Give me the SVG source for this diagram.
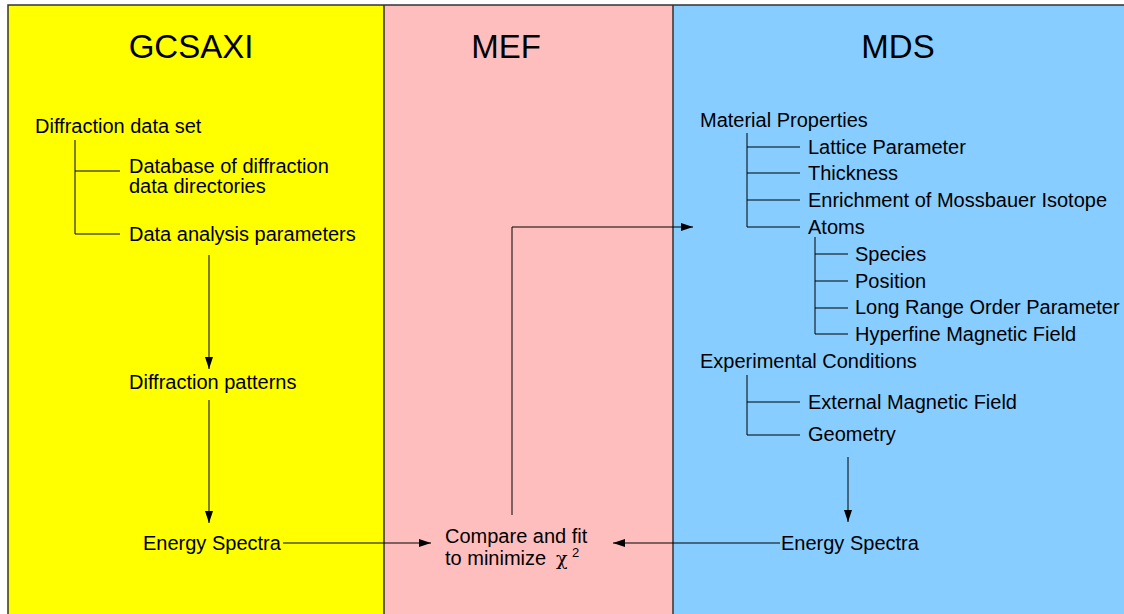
<svg xmlns="http://www.w3.org/2000/svg" width="1124" height="614" viewBox="0 0 1124 614">
<style>
text{font-family:"Liberation Sans",Arial,sans-serif;font-size:20px;fill:#000}
.title{font-size:33px;text-anchor:middle}
.chi{font-family:"DejaVu Serif","Liberation Serif",serif;font-size:19px}
.sup{font-size:13px}
.ln{stroke:#000;stroke-width:1;fill:none}
.arr{stroke:#000;stroke-width:1;fill:none;marker-end:url(#ah)}
.border{stroke:#333;stroke-width:1.5;fill:none}
</style>
<defs>
<marker id="ah" markerUnits="userSpaceOnUse" markerWidth="14" markerHeight="10" refX="12" refY="4" orient="auto">
<path d="M0,0 L12,4 L0,8 Z" fill="#000"/>
</marker>
</defs>
<g id="panels">
<rect x="8" y="5" width="376" height="609" fill="#ffff00"/>
<rect x="384" y="5" width="289" height="609" fill="#ffbebe"/>
<rect x="673" y="5" width="451" height="609" fill="#87cdff"/>
<path class="border" d="M8,614 V5 H1124 M384,5 V614 M673,5 V614"/>
</g>
<g id="titles">
<text class="title" x="191" y="58">GCSAXI</text>
<text class="title" x="506" y="58">MEF</text>
<text class="title" x="898" y="58">MDS</text>
</g>
<g id="connectors">
<path class="ln" d="M75,140 V234 M75,171 H120 M75,234 H120"/>
<path class="arr" d="M209,255 V369"/>
<path class="arr" d="M209,400 V523"/>
<path class="arr" d="M283,543 H431"/>
<path class="arr" d="M780,543 H613"/>
<path class="arr" d="M512,515 V227 H693"/>
<path class="ln" d="M747,133 V227 M747,147 H800 M747,173 H800 M747,200 H800 M747,227 H800"/>
<path class="ln" d="M815,237 V334 M815,254 H848 M815,281 H848 M815,308 H848 M815,334 H848"/>
<path class="ln" d="M747,375 V435 M747,402 H800 M747,435 H800"/>
<path class="arr" d="M848,457 V522"/>
</g>
<g id="gcsaxi-nodes">
<text id="n-diffset" x="35" y="133">Diffraction data set</text>
<g id="n-database">
<text x="129" y="173">Database of diffraction</text>
<text x="129" y="193">data directories</text>
</g>
<text id="n-params" x="129" y="241">Data analysis parameters</text>
<text id="n-patterns" x="129" y="389">Diffraction patterns</text>
<text id="n-es-left" x="143" y="550">Energy Spectra</text>
</g>
<g id="n-compare">
<text x="445" y="543">Compare and fit</text>
<text x="445" y="565">to minimize</text>
<text class="chi" x="556" y="565">χ</text>
<text class="sup" x="572" y="557">2</text>
</g>
<g id="mds-nodes">
<text x="700" y="127">Material Properties</text>
<text x="808" y="154">Lattice Parameter</text>
<text x="808" y="180">Thickness</text>
<text x="808" y="207">Enrichment of Mossbauer Isotope</text>
<text x="808" y="234">Atoms</text>
<text x="855" y="261">Species</text>
<text x="855" y="288">Position</text>
<text x="855" y="314">Long Range Order Parameter</text>
<text x="855" y="341">Hyperfine Magnetic Field</text>
<text x="700" y="368">Experimental Conditions</text>
<text x="808" y="409">External Magnetic Field</text>
<text x="808" y="441">Geometry</text>
<text id="n-es-right" x="781" y="550">Energy Spectra</text>
</g>
</svg>
